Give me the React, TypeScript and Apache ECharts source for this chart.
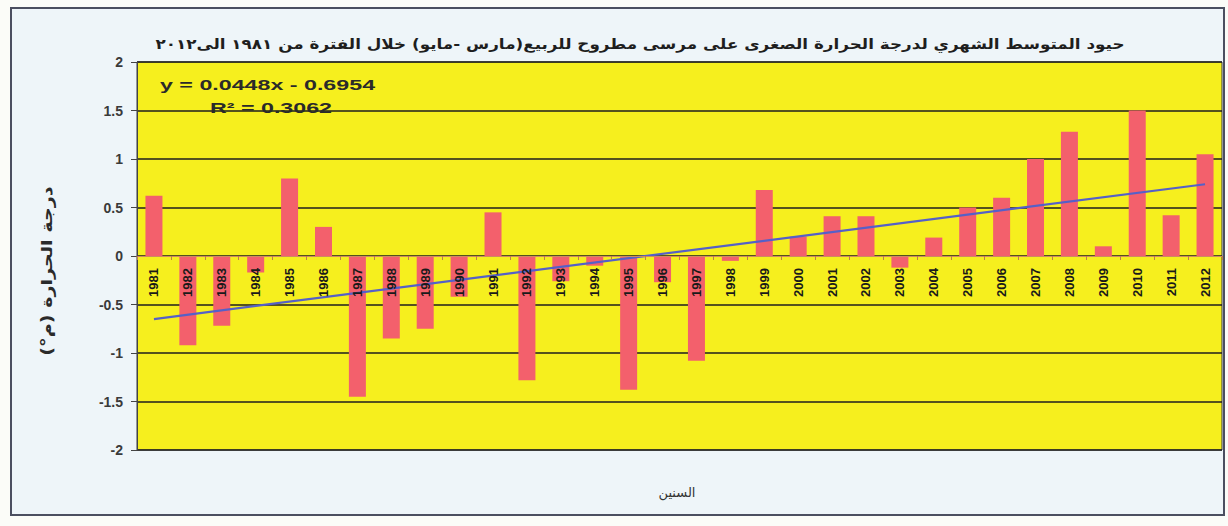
import React, { useEffect, useRef } from "react";
import * as echarts from "echarts";

const years = [
  "1981","1982","1983","1984","1985","1986","1987","1988","1989","1990",
  "1991","1992","1993","1994","1995","1996","1997","1998","1999","2000",
  "2001","2002","2003","2004","2005","2006","2007","2008","2009","2010",
  "2011","2012",
];
const anomalies = [
  0.62, -0.92, -0.72, -0.17, 0.8, 0.3, -1.45, -0.85, -0.75, -0.42,
  0.45, -1.28, -0.26, -0.1, -1.38, -0.27, -1.08, -0.05, 0.68, 0.2,
  0.41, 0.41, -0.12, 0.19, 0.5, 0.6, 1.0, 1.28, 0.1, 1.5,
  0.42, 1.05,
];
const trendStart = -0.65;
const trendEnd = 0.74;
const yTicks = { min: -2, max: 2, interval: 0.5 };

const titleText =
  "حيود المتوسط الشهري لدرجة الحرارة الصغرى على مرسى مطروح للربيع(مارس -مايو) خلال الفترة من ١٩٨١ الى٢٠١٢";
const equationText = "y = 0.0448x - 0.6954";
const r2Text = "R² = 0.3062";
const yName = "درجة الحرارة (م°)";
const xName = "السنين";

const GRID_TOP = 62;
const GRID_BOTTOM = 76;
const HEIGHT = 526;

export default function App() {
  const ref = useRef<HTMLDivElement>(null);
  useEffect(() => {
    if (!ref.current) return;
    const chart = echarts.init(ref.current, null, { renderer: "svg" });
    const trendData = [
      [years[0], trendStart],
      [years[years.length - 1], trendEnd],
    ];
    // place the category axis on the zero line of the value axis
    const plotH = HEIGHT - GRID_TOP - GRID_BOTTOM;
    const zeroFrac = (yTicks.max - 0) / (yTicks.max - yTicks.min);
    const zeroOffset = -(plotH - plotH * zeroFrac);
    chart.setOption({
      animation: false,
      backgroundColor: "#fbfcf8",
      grid: {
        left: 137,
        right: 6,
        top: GRID_TOP,
        bottom: GRID_BOTTOM,
        show: true,
        backgroundColor: "#f6ef1e",
        borderColor: "#3a3a3a",
        borderWidth: 1,
      },
      xAxis: {
        type: "category",
        data: years,
        offset: zeroOffset,
        axisLine: { onZero: false, lineStyle: { color: "#d08a60", width: 1 } },
        axisTick: { show: true, length: 4, lineStyle: { color: "#c07a50" } },
        axisLabel: {
          interval: 0,
          rotate: 90,
          margin: 12,
          fontSize: 13,
          fontWeight: "bold",
          fontFamily: "Liberation Sans, Arial, sans-serif",
          color: "#1a1a1a",
        },
        splitLine: { show: false },
        z: 4,
      },
      yAxis: {
        type: "value",
        min: yTicks.min,
        max: yTicks.max,
        interval: yTicks.interval,
        axisLine: { show: true, lineStyle: { color: "#444", width: 1 } },
        axisTick: { show: true, length: 6, lineStyle: { color: "#444" } },
        axisLabel: {
          margin: 14,
          fontSize: 14,
          fontWeight: "bold",
          fontFamily: "Liberation Sans, Arial, sans-serif",
          color: "#3a3a3a",
        },
        splitLine: { show: true, lineStyle: { color: "#1e1e1e", width: 1.5 } },
      },
      series: [
        {
          type: "bar",
          data: anomalies,
          barWidth: 17,
          itemStyle: { color: "#f3606c" },
          z: 2,
        },
        {
          type: "line",
          data: trendData,
          symbol: "none",
          lineStyle: { color: "#5560c8", width: 2.2 },
          z: 3,
        },
      ],
      graphic: [
        {
          type: "rect",
          z: -10,
          silent: true,
          shape: { x: 11, y: 8, width: 1213, height: 507 },
          style: { fill: "#eef5f9", stroke: "#4b4f60", lineWidth: 2 },
        },
        {
          type: "text",
          x: 640,
          y: 44,
          scaleX: 1.2,
          style: {
            text: titleText,
            font: "bold 14px 'DejaVu Sans', sans-serif",
            fill: "#1e1e1e",
            align: "center",
            verticalAlign: "middle",
          },
        },
        {
          type: "text",
          x: 160,
          y: 85,
          scaleX: 1.55,
          z: 10,
          style: {
            text: equationText,
            font: "bold 15px 'Liberation Sans', Arial, sans-serif",
            fill: "#2a2a2a",
            align: "left",
            verticalAlign: "middle",
          },
        },
        {
          type: "text",
          x: 210,
          y: 108,
          scaleX: 1.55,
          z: 10,
          style: {
            text: r2Text,
            font: "bold 15px 'Liberation Sans', Arial, sans-serif",
            fill: "#2a2a2a",
            align: "left",
            verticalAlign: "middle",
          },
        },
        {
          type: "text",
          x: 47,
          y: 271,
          rotation: Math.PI / 2,
          scaleX: 1.28,
          style: {
            text: yName,
            font: "bold 15px 'DejaVu Sans', sans-serif",
            fill: "#2a2a2a",
            align: "center",
            verticalAlign: "middle",
          },
        },
        {
          type: "text",
          x: 677,
          y: 492,
          style: {
            text: xName,
            font: "13px 'DejaVu Sans', sans-serif",
            fill: "#333",
            align: "center",
            verticalAlign: "middle",
          },
        },
      ],
    });
    return () => chart.dispose();
  }, []);
  return (
    <div
      ref={ref}
      style={{ position: "fixed", left: 0, top: 0, width: 1228, height: HEIGHT }}
    />
  );
}
